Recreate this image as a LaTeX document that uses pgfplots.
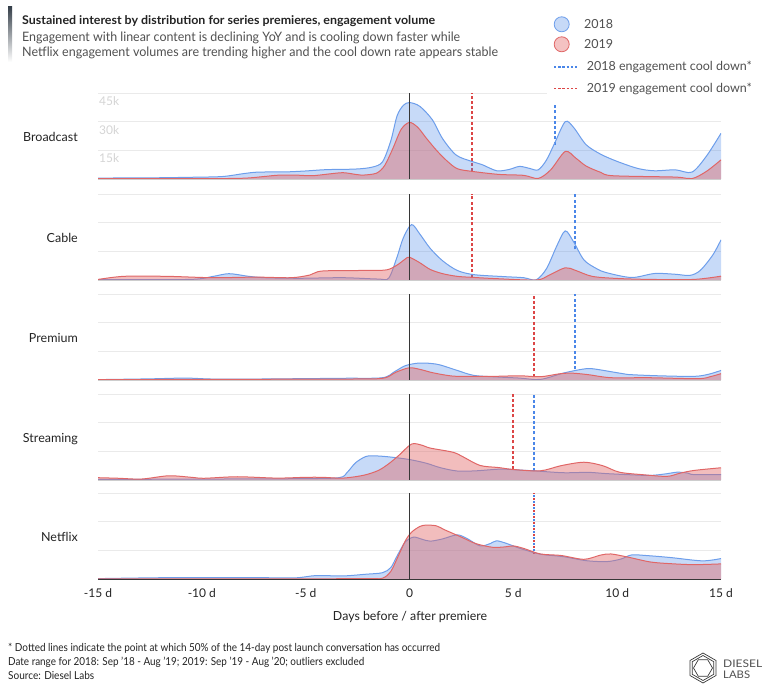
\documentclass[border=0pt]{standalone}
\usepackage{fontspec}
\setmainfont{Lato}
\usepackage{graphicx}
\usepackage{pgfplots}
\usepackage{pgfplotstable}
\pgfplotsset{compat=1.18}

\definecolor{bfill}{RGB}{74,134,232}
\definecolor{bline}{RGB}{109,158,235}
\definecolor{bdash}{RGB}{74,134,232}
\definecolor{rfill}{RGB}{224,102,102}
\definecolor{rline}{RGB}{224,102,102}
\definecolor{rdash}{RGB}{220,70,70}
\definecolor{gridc}{RGB}{234,234,234}
\definecolor{basec}{RGB}{205,205,205}
\definecolor{zeroc}{RGB}{55,55,55}
\definecolor{txt}{RGB}{35,35,35}
\definecolor{subc}{RGB}{80,80,80}
\definecolor{ylab}{RGB}{212,212,212}
\definecolor{barc}{RGB}{55,65,75}
\definecolor{lgbfill}{RGB}{198,217,247}
\definecolor{lgrfill}{RGB}{244,194,194}

% ---------------- data (thousands) ----------------
\pgfplotstableread{
x y
-15 0.5
-12.5 0.6
-10.5 0.9
-9 1.3
-8 2.8
-7.3 3.6
-6 3.7
-5 4.2
-4 4.9
-2.6 5.2
-1.8 6.2
-1.3 9
-0.9 20
-0.6 33
-0.3 38.5
0 40
0.5 38
1.1 31
1.6 21
2.25 12.5
3 9.2
3.5 7.5
4.2 4.3
4.8 5
5.3 6.6
5.8 5.5
6.2 4.8
6.6 10
7 19
7.5 30
7.9 27
8.5 18
9.2 13
10 9.2
11 5.5
11.8 4.3
12.8 4.8
13.6 3.6
14.3 12
15 23.9
}\Bb
\pgfplotstableread{
x y
-15 0.2
-10 0.2
-8 0.4
-7 1.3
-6.3 2
-5.4 2
-4.7 1.7
-3.9 2.6
-3.2 3.3
-2.6 2.4
-2.3 2
-1.6 3
-1.2 7
-0.8 16
-0.4 26
0 29.6
0.4 27
0.8 21.5
1.3 15
1.8 9.5
2.3 5.4
3 4
4.3 2.4
5.5 1.9
6.2 0.3
6.8 4.8
7.5 14.4
8 11
8.5 6.8
9.2 3.5
9.8 1.7
12.8 1
13.6 0.2
14.3 4
15 10
}\Br
\pgfplotstableread{
x y
-15 0.2
-10.6 0.3
-9.5 1.8
-8.7 3.3
-7.8 2
-7 1.2
-5.3 0.9
-3.2 1.2
-1.5 0.5
-1 1
-0.6 12
-0.3 22
0.1 29
0.5 24
1 16.5
1.6 10
2.3 5
3.1 2.8
4.5 1.8
5.5 1.2
6.1 0.1
6.6 6
7.1 18
7.5 25.7
7.9 20
8.4 10.5
9 6
9.5 3.8
10.7 1.3
11.8 3.4
12.8 3
13.5 2.4
14 5
14.6 13
15 21
}\Cb
\pgfplotstableread{
x y
-15 0.3
-14.2 1.5
-13.5 2
-11.6 1.9
-9.5 1.2
-7.4 1.5
-5.7 1.2
-4.8 2.6
-4.2 4.7
-2.1 5
-1.1 5.3
-0.6 7.8
-0.2 11
0 11.9
0.5 9
1 5.5
1.6 3.3
2.3 1.9
3 1.4
4.2 0.7
6.1 0
6.7 2.4
7.5 6.4
8 5
8.8 1.9
10 0.8
11.6 0.3
13.7 0.3
15 2
}\Cr
\pgfplotstableread{
x y
-15 0.2
-12.5 0.6
-10.8 1
-9.5 0.5
-7.4 0.5
-3.2 0.9
-1.3 1.2
-0.7 4.5
-0.2 7.5
0.4 8.8
1 8.7
1.5 7.8
2.3 5
3.1 2.4
4.2 1.6
5.3 1
6.3 0.3
7.4 3.6
8.3 5.6
8.8 5.9
10 3.8
10.5 2.9
12 2.2
13.7 1.9
14.4 3
15 5
}\Pb
\pgfplotstableread{
x y
-15 0.2
-3.2 0.5
-1.3 0.9
-0.65 4.1
0 6.4
0.6 5.3
1 4.1
1.6 2.8
2.3 1.9
4 1.9
5.3 2.2
6.3 1.7
7.2 3.2
7.8 3.6
8.6 2.8
9.7 1.2
11.5 1.2
13.9 0.7
14.5 1.8
15 3.3
}\Pr
\pgfplotstableread{
x y
-15 0.3
-9.5 0.5
-5.3 0.7
-3.4 1.2
-3 4
-2.6 9
-2.1 12.3
-1.6 12.6
-0.9 12
0 10.7
0.8 8.8
1.5 6.4
2.3 4.7
3.2 4.8
4.4 5.7
5.3 5.2
6 4.8
7.4 3.8
8.6 4
9.4 3.4
10.5 2.8
11.6 2.4
12.4 3.3
12.9 4.1
13.4 3.6
13.7 2.8
15 2.8
}\Sb
\pgfplotstableread{
x y
-15 1.2
-14 0.9
-12.9 0.5
-11.6 2.2
-10.5 1.4
-9.9 0.9
-8.3 1.7
-6.4 1
-5 1.4
-4.2 1.4
-3.2 1
-2.2 2.5
-1.5 5
-1 8.5
-0.5 13
0.1 18.8
0.6 18.2
1 16.7
2.1 14.5
2.6 12
3.4 7.6
4.3 6.5
5 5.5
6.3 4.8
7.3 7.5
8.4 9.3
9.3 7.5
10.1 4.1
11.2 2.8
12.4 1.9
13 3.5
13.7 5
15 6.4
}\Sr
\pgfplotstableread{
x y
-15 0.2
-11.6 0.7
-7.4 0.7
-5.5 0.6
-4.5 1.8
-3.2 1.6
-2.1 2.5
-1.3 3.3
-0.9 6
-0.6 12
-0.2 19.5
0.2 21.9
0.6 20.8
1 19.8
1.6 21
2.3 23.1
2.8 21
3.4 17.3
3.9 18.6
4.2 20
4.7 18.5
5.3 16.1
6.3 13
7.4 11.7
8.5 9.6
9.5 9.1
10.2 10.5
10.7 12.6
11.5 12.2
12.6 11.2
14.1 9.5
15 10.7
}\Nb
\pgfplotstableread{
x y
-15 0
-10 0.1
-5 0.1
-1.9 0.2
-1.3 0.4
-0.9 4
-0.5 13
-0.2 20
0.1 24.5
0.5 27.5
0.8 28.2
1.3 27.8
1.7 25.7
2.5 21.9
3.2 18.5
4 16.6
4.6 16.8
5 17.3
5.5 16
6.3 13.1
7.3 12.3
8.4 10.3
9.2 12.5
9.7 13.1
10.5 11.5
11.6 8.9
12.6 8
13.7 7.5
15 7.9
}\Nr

\pgfplotsset{
  ridge/.style={
    scale only axis, width=623pt, height=86pt,
    xmin=-15, xmax=15, ymin=0, ymax=45,
    axis x line*=bottom, axis y line*=left,
    y axis line style={draw=none},
    x axis line style={draw=basec, line width=0.8pt},
    xtick=\empty, ytick={15,30,45}, yticklabels={,,},
    major tick length=0pt,
    ymajorgrids, grid style={draw=gridc, line width=0.9pt},
    anchor=south west,
  },
  barea/.style={draw=none, fill=bfill, fill opacity=0.31, smooth},
  bcurve/.style={bline, line width=1pt, smooth},
  rarea/.style={draw=none, fill=rfill, fill opacity=0.43, smooth},
  rcurve/.style={rline, line width=1pt, smooth},
}
\tikzset{cool/.style={line width=1.7pt, dash pattern=on 3pt off 2.2pt},
  cat/.style={anchor=base east, inner sep=0pt, text=txt, font=\fontsize{12.5}{14}\selectfont}}

\begin{document}
\begin{tikzpicture}
\path[use as bounding box] (0pt,0pt) rectangle (768pt,688pt);

% ---------- Broadcast ----------
\begin{axis}[ridge, at={(98pt,509pt)}]
\draw[rdash, cool] (axis cs:3,4) -- (axis cs:3,45);
\draw[bdash, cool] (axis cs:7,18) -- (axis cs:7,45);
\addplot[barea] table {\Bb} \closedcycle;
\addplot[bcurve] table {\Bb};
\addplot[rarea] table {\Br} \closedcycle;
\addplot[rcurve] table {\Br};
\draw[zeroc, line width=0.8pt] (axis cs:0,0) -- (axis cs:0,45);
\node[anchor=north west, inner sep=0pt, text=ylab, font=\fontsize{12}{14}\selectfont] at ([xshift=1pt,yshift=-3.5pt]axis cs:-15,45) {45k};
\node[anchor=north west, inner sep=0pt, text=ylab, font=\fontsize{12}{14}\selectfont] at ([xshift=1pt,yshift=-3.5pt]axis cs:-15,30) {30k};
\node[anchor=north west, inner sep=0pt, text=ylab, font=\fontsize{12}{14}\selectfont] at ([xshift=1pt,yshift=-3.5pt]axis cs:-15,15) {15k};
\end{axis}
\node[cat] at (78pt,546.5pt) {Broadcast};

% ---------- Cable ----------
\begin{axis}[ridge, at={(98pt,408pt)}]
\draw[rdash, cool] (axis cs:3,1.4) -- (axis cs:3,45);
\draw[bdash, cool] (axis cs:7.98,16) -- (axis cs:7.98,45);
\addplot[barea] table {\Cb} \closedcycle;
\addplot[bcurve] table {\Cb};
\addplot[rarea] table {\Cr} \closedcycle;
\addplot[rcurve] table {\Cr};
\draw[zeroc, line width=0.8pt] (axis cs:0,0) -- (axis cs:0,45);
\end{axis}
\node[cat] at (78pt,445.5pt) {Cable};

% ---------- Premium ----------
\begin{axis}[ridge, at={(98pt,308pt)}]
\draw[rdash, cool] (axis cs:6,1.8) -- (axis cs:6,45);
\draw[bdash, cool] (axis cs:7.98,5.6) -- (axis cs:7.98,45);
\addplot[barea] table {\Pb} \closedcycle;
\addplot[bcurve] table {\Pb};
\addplot[rarea] table {\Pr} \closedcycle;
\addplot[rcurve] table {\Pr};
\draw[zeroc, line width=0.8pt] (axis cs:0,0) -- (axis cs:0,45);
\end{axis}
\node[cat] at (78pt,345.5pt) {Premium};

% ---------- Streaming ----------
\begin{axis}[ridge, at={(98pt,208pt)}]
\draw[rdash, cool] (axis cs:5,5.5) -- (axis cs:5,45);
\draw[bdash, cool] (axis cs:6,4.8) -- (axis cs:6,45);
\addplot[barea] table {\Sb} \closedcycle;
\addplot[bcurve] table {\Sb};
\addplot[rarea] table {\Sr} \closedcycle;
\addplot[rcurve] table {\Sr};
\draw[zeroc, line width=0.8pt] (axis cs:0,0) -- (axis cs:0,45);
\end{axis}
\node[cat] at (78pt,245.5pt) {Streaming};

% ---------- Netflix ----------
\begin{axis}[ridge, at={(98pt,109pt)},
  x axis line style={draw=zeroc, line width=0.9pt},
  xtick={-15,-10,-5,0,5,10,15},
  xticklabels={-15 d,-10 d,-5 d,0,5 d,10 d,15 d},
  xticklabel style={anchor=base, yshift=-18.5pt, text=txt, font=\fontsize{12}{14}\selectfont}]
\draw[rdash, line width=1.7pt, dash pattern=on 2pt off 4pt] (axis cs:6,13) -- (axis cs:6,45);
\draw[bdash, line width=1.7pt, dash pattern=on 2pt off 4pt, dash phase=3pt] (axis cs:6,13) -- (axis cs:6,45);
\addplot[barea] table {\Nb} \closedcycle;
\addplot[bcurve] table {\Nb};
\addplot[rarea] table {\Nr} \closedcycle;
\addplot[rcurve] table {\Nr};
\draw[zeroc, line width=0.8pt] (axis cs:0,0) -- (axis cs:0,45);
\end{axis}
\node[cat] at (78pt,146.5pt) {Netflix};
\node[anchor=base, inner sep=0pt, text=txt, font=\fontsize{12.5}{14}\selectfont] at (410pt,68pt) {\resizebox{154pt}{\height}{Days before / after premiere}};

% ---------- Title block ----------
\shade[top color=barc, bottom color=white] (8pt,626pt) rectangle (12pt,681pt);
\node[anchor=base west, inner sep=0pt, text=txt, font=\fontsize{12}{14}\selectfont\bfseries] at (22pt,663.7pt) {\resizebox{413pt}{\height}{Sustained interest by distribution for series premieres, engagement volume}};
\node[anchor=base west, inner sep=0pt, text=subc, font=\fontsize{13}{15}\selectfont] at (22pt,646.3pt) {\resizebox{438pt}{\height}{Engagement with linear content is declining YoY and is cooling down faster while}};
\node[anchor=base west, inner sep=0pt, text=subc, font=\fontsize{13}{15}\selectfont] at (22pt,631.3pt) {\resizebox{476pt}{\height}{Netflix engagement volumes are trending higher and the cool down rate appears stable}};

% ---------- Legend ----------
\fill[white] (547pt,584pt) rectangle (768pt,688pt);
\draw[bline, fill=lgbfill, line width=0.8pt] (561.7pt,663.7pt) circle (7.5pt);
\draw[rline, fill=lgrfill, line width=0.8pt] (561.7pt,643.7pt) circle (7.5pt);
\node[anchor=base west, inner sep=0pt, text=subc, font=\fontsize{12.5}{14}\selectfont] at (584pt,659.7pt) {2018};
\node[anchor=base west, inner sep=0pt, text=subc, font=\fontsize{12.5}{14}\selectfont] at (584pt,639.7pt) {2019};
\draw[bdash, line width=1.2pt, dash pattern=on 2.4pt off 1.8pt] (554pt,621pt) -- (577pt,621pt);
\draw[rdash, line width=1.2pt, dash pattern=on 2.4pt off 1.8pt] (554pt,599.7pt) -- (577pt,599.7pt);
\node[anchor=base west, inner sep=0pt, text=subc, font=\fontsize{12.5}{14}\selectfont] at (586.7pt,617.3pt) {\resizebox{165pt}{\height}{2018 engagement cool down*}};
\node[anchor=base west, inner sep=0pt, text=subc, font=\fontsize{12.5}{14}\selectfont] at (586.7pt,595.7pt) {\resizebox{165pt}{\height}{2019 engagement cool down*}};

% ---------- Footer ----------
\node[anchor=base west, inner sep=0pt, text=txt, font=\fontsize{11}{13}\selectfont] at (8pt,37pt) {\resizebox{432pt}{\height}{* Dotted lines indicate the point at which 50\% of the 14-day post launch conversation has occurred}};
\node[anchor=base west, inner sep=0pt, text=txt, font=\fontsize{11}{13}\selectfont] at (8pt,23pt) {\resizebox{356pt}{\height}{Date range for 2018: Sep ’18 - Aug ’19; 2019: Sep ’19 - Aug ’20; outliers excluded}};
\node[anchor=base west, inner sep=0pt, text=txt, font=\fontsize{11}{13}\selectfont] at (8pt,9pt) {\resizebox{86pt}{\height}{Source: Diesel Labs}};

% ---------- Logo ----------
\begin{scope}[shift={(703pt,20pt)}, line width=0.7pt, draw=zeroc]
\draw (90:15pt) -- (150:15pt) -- (210:15pt) -- (270:15pt) -- (330:15pt) -- (30:15pt) -- cycle;
\draw (90:12.5pt) -- (150:12.5pt) -- (210:12.5pt) -- (270:12.5pt) -- (330:12.5pt) -- (30:12.5pt) -- cycle;
\draw (60:9.5pt) -- (120:9.5pt) -- (180:9.5pt) -- (240:9.5pt) -- (300:9.5pt) -- (0:9.5pt) -- cycle;
\end{scope}
\node[anchor=base west, inner sep=0pt, text=subc, font=\fontsize{10.5}{12}\selectfont] at (723pt,21pt) {\resizebox{39pt}{\height}{DIESEL}};
\node[anchor=base west, inner sep=0pt, text=subc, font=\fontsize{10.5}{12}\selectfont] at (723pt,10pt) {\resizebox{27pt}{\height}{LABS}};
\end{tikzpicture}
\end{document}
